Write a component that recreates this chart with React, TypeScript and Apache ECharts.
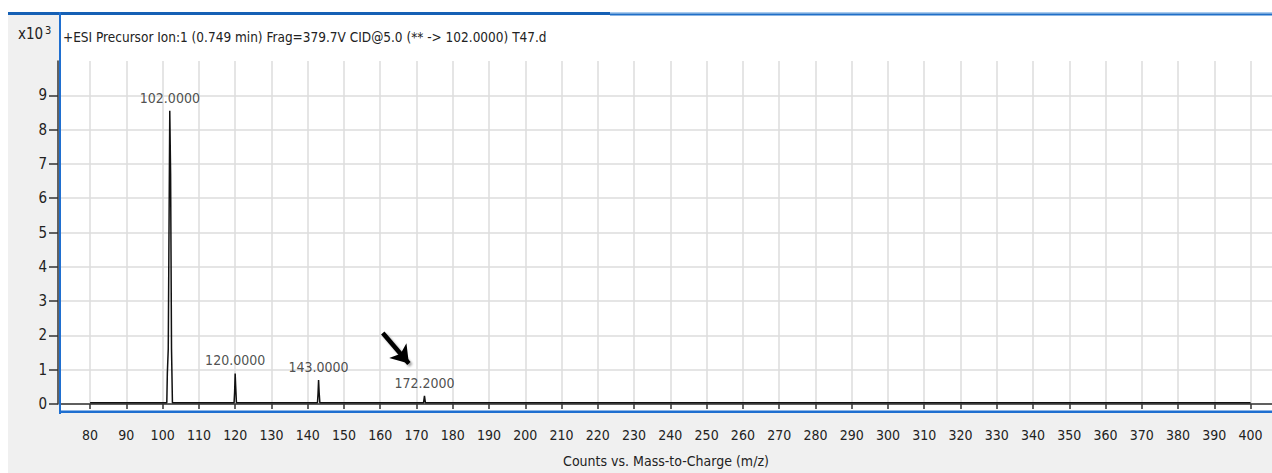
import React, { useEffect, useRef } from "react";
import * as echarts from "echarts";

// m/z tick labels and count (x10^3) tick labels
const xTicks = [80, 90, 100, 110, 120, 130, 140, 150, 160, 170, 180, 190, 200, 210, 220, 230, 240, 250, 260, 270, 280, 290, 300, 310, 320, 330, 340, 350, 360, 370, 380, 390, 400];
const yTicks = [0, 1, 2, 3, 4, 5, 6, 7, 8, 9];

// spectrum trace (m/z, counts x10^3)
const traceMz = [80, 101.15, 101.28, 101.3, 101.55, 101.97, 102.2, 102.45, 102.7, 119.7, 119.85, 120.0, 120.15, 120.35, 142.7, 142.85, 143.0, 143.15, 143.35, 171.95, 172.2, 172.45, 400];
const traceCounts = [0.04, 0.04, 0.04, 0.9, 1.6, 8.55, 6.7, 1.6, 0.04, 0.04, 0.35, 0.89, 0.5, 0.04, 0.04, 0.3, 0.7, 0.35, 0.04, 0.04, 0.24, 0.04, 0.04];

// labelled peaks
const peakMz = [102.0, 120.0, 143.0, 172.2];
const peakTop = [8.55, 0.89, 0.7, 0.24];
const peakLabels = ["102.0000", "120.0000", "143.0000", "172.2000"];

// annotation arrow (m/z, counts x10^3)
const arrowFrom = [160.7, 2.07];
const arrowTo = [167.9, 1.18];

const titleText = "+ESI Precursor Ion:1 (0.749 min) Frag=379.7V CID@5.0 (** -> 102.0000) T47.d";
const xAxisTitle = "Counts vs. Mass-to-Charge (m/z)";

const FONT = '"Liberation Sans Narrow", "Arial Narrow", "DejaVu Sans Condensed", sans-serif';

export default function App() {
  const ref = useRef<HTMLDivElement>(null);
  useEffect(() => {
    const chart = echarts.init(ref.current!, null, { renderer: "svg" });
    chart.setOption({
      animation: false,
      backgroundColor: "#ffffff",
      textStyle: { fontFamily: FONT },
      grid: { left: 60, right: 0, top: 61, bottom: 64, containLabel: false },
      xAxis: {
        type: "value",
        min: 71.7,
        max: 405.9,
        offset: 6,
        axisLine: { show: true, lineStyle: { color: "#333", width: 1.5 } },
        axisTick: { show: true, length: 5, lineStyle: { color: "#333", width: 1.5 }, customValues: xTicks },
        axisLabel: { customValues: xTicks, color: "#222", fontSize: 14, fontFamily: FONT, margin: 18 },
        splitLine: { show: true, lineStyle: { color: "#dcdcdc", width: 1.5 } },
        name: xAxisTitle,
        nameLocation: "middle",
        nameGap: 44,
        nameTextStyle: { color: "#222", fontSize: 14, fontFamily: FONT },
      },
      yAxis: {
        type: "value",
        min: 0,
        max: 10,
        offset: 2,
        axisLine: { show: true, lineStyle: { color: "#333", width: 1.5 } },
        axisTick: { show: true, length: 9, lineStyle: { color: "#333", width: 1.5 }, customValues: yTicks },
        axisLabel: { customValues: yTicks, color: "#222", fontSize: 15, fontFamily: FONT, margin: 11 },
        splitLine: { show: true, lineStyle: { color: "#dcdcdc", width: 1.5 } },
      },
      graphic: [
        { type: "rect", z: -20, silent: true, shape: { x: 8, y: 12, width: 1264, height: 461 }, style: { fill: "#f0f0f0" } },
        { type: "rect", z: -19, silent: true, shape: { x: 60, y: 14, width: 1212, height: 397 }, style: { fill: "#ffffff" } },
        { type: "rect", z: 5, silent: true, shape: { x: 8, y: 12, width: 602, height: 3 }, style: { fill: "#1560b5" } },
        { type: "rect", z: 5, silent: true, shape: { x: 610, y: 12, width: 662, height: 1.5 }, style: { fill: "#a9cbee" } },
        { type: "rect", z: 5, silent: true, shape: { x: 610, y: 13.5, width: 662, height: 2 }, style: { fill: "#1f6fc8" } },
        { type: "rect", z: 5, silent: true, shape: { x: 59, y: 12, width: 2, height: 402 }, style: { fill: "#1f6fd0" } },
        { type: "rect", z: 5, silent: true, shape: { x: 59, y: 410.5, width: 1213, height: 2.5 }, style: { fill: "#1f6fd0" } },
        {
          type: "text", z: 6, silent: true, x: 18, y: 34,
          style: { text: "x10", fill: "#222", font: `15px ${FONT}`, verticalAlign: "middle", align: "left" },
        },
        {
          type: "text", z: 6, silent: true, x: 45, y: 30,
          style: { text: "3", fill: "#222", font: `11px ${FONT}`, verticalAlign: "middle", align: "left" },
        },
        {
          type: "text", z: 6, silent: true, x: 63, y: 37,
          style: { text: titleText, fill: "#222", font: `13.5px ${FONT}`, verticalAlign: "middle", align: "left" },
        },
      ],
      series: [
        {
          type: "line",
          data: traceMz.map((m, i) => [m, traceCounts[i]]),
          symbol: "none",
          lineStyle: { color: "#111", width: 1.5 },
          z: 3,
        },
        {
          type: "scatter",
          data: peakMz.map((m, i) => [m, peakTop[i]]),
          symbolSize: 0,
          itemStyle: { color: "transparent" },
          label: {
            show: true,
            position: "top",
            distance: 6,
            color: "#222",
            fontSize: 14,
            fontFamily: FONT,
            formatter: (p: any) => peakLabels[p.dataIndex],
          },
          markLine: {
            silent: true,
            symbol: ["none", "arrow"],
            symbolSize: 17,
            label: { show: false },
            lineStyle: {
              color: "#000",
              width: 4.5,
              type: "solid",
              shadowColor: "rgba(0,0,0,0.35)",
              shadowBlur: 2,
              shadowOffsetX: 2,
              shadowOffsetY: 2,
            },
            data: [[{ coord: arrowFrom }, { coord: arrowTo }]],
          },
          z: 4,
        },
      ],
    });
    return () => chart.dispose();
  }, []);
  return <div ref={ref} style={{ position: "absolute", left: 0, top: 0, width: 1272, height: 473 }} />;
}
